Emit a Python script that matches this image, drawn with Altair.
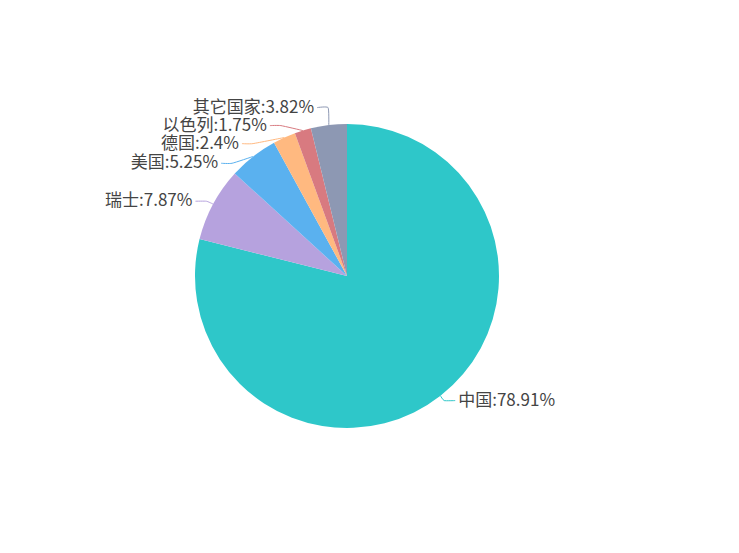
import math
import altair as alt
import pandas as pd

# ---- data ----
names = ["中国", "瑞士", "美国", "德国", "以色列", "其它国家"]
values = [78.91, 7.87, 5.25, 2.4, 1.75, 3.82]
colors = ["#2ec7c9", "#b6a2de", "#5ab1ef", "#ffb980", "#d87a80", "#8d98b3"]
labels = [f"{n}:{v:g}%" for n, v in zip(names, values)]

# ---- layout parameters (pixels within the view) ----
W, H = 723, 537
CX, CY = 339, 268          # pie centre
R = 152                     # pie radius
LEN1, LEN2 = 6, 11          # label line lengths (echarts-like)
GAP = 3                     # gap between line end and text
LINE_H = 18                 # label height used for overlap avoidance

# ---- pie table ----
pie_df = pd.DataFrame({"name": names, "value": values, "label": labels,
                       "order": list(range(len(names)))})

# ---- echarts-4 style outer-label layout derived from the values ----
total = sum(values)
items = []
cum = 0.0
for i, (n, v, lab) in enumerate(zip(names, values, labels)):
    a = 2 * math.pi * (cum + v / 2) / total
    cum += v
    dx, dy = math.sin(a), -math.cos(a)
    side = 1 if dx >= 0 else -1
    x1, y1 = CX + R * dx, CY + R * dy
    x2, y2 = CX + (R + LEN1) * dx, CY + (R + LEN1) * dy
    x3 = x2 + side * LEN2
    items.append(dict(name=n, label=lab, side=side, x1=x1, y1=y1,
                      x=x3, y=y2, h=LINE_H))


def adjust_side(lst, direction):
    if len(lst) < 2:
        return
    lst.sort(key=lambda d: d["y"])
    n = len(lst)

    def shift_up(end, delta):
        for j in range(end, -1, -1):
            if lst[j]["y"] - delta < 0:
                break
            lst[j]["y"] -= delta
            if j > 0 and lst[j]["y"] > lst[j - 1]["y"] + lst[j - 1]["h"]:
                break

    def shift_down(start, end, delta):
        for j in range(start, end):
            if lst[j]["y"] + delta > H:
                break
            lst[j]["y"] += delta
            if j > start and j + 1 < end and lst[j + 1]["y"] > lst[j]["y"] + lst[j]["h"]:
                shift_up(j, delta / 2)
                return
        shift_up(end - 1, delta / 2)

    last_y = -1e9
    for i in range(n):
        delta = lst[i]["y"] - last_y
        if delta < 0:
            shift_down(i, n, -delta)
        last_y = lst[i]["y"] + lst[i]["h"]

    def change_x(sub, is_down):
        last = float("inf") if is_down else 0
        for d in sub:
            ddy = abs(d["y"] - CY)
            if ddy < R + LEN1:
                ddx = math.sqrt((R + LEN1 + LEN2) ** 2 - ddy ** 2)
            else:
                ddx = abs(d["x"] - CX)
            if is_down and ddx >= last:
                ddx = last - 10
            if (not is_down) and ddx <= last:
                ddx = last + 10
            d["x"] = CX + ddx * direction
            last = ddx

    change_x([d for d in lst if d["y"] < CY], False)
    change_x([d for d in lst if d["y"] >= CY], True)


adjust_side([d for d in items if d["side"] < 0], -1)
adjust_side([d for d in items if d["side"] > 0], 1)

line_rows, text_rows = [], []
for d in items:
    p2x = d["x"]
    p1x = p2x - d["side"] * LEN2
    line_rows += [
        dict(name=d["name"], pt=0, px=d["x1"], py=d["y1"]),
        dict(name=d["name"], pt=1, px=p1x, py=d["y"]),
        dict(name=d["name"], pt=2, px=p2x, py=d["y"]),
    ]
    text_rows.append(dict(name=d["name"], label=d["label"],
                          side="right" if d["side"] > 0 else "left",
                          tx=p2x + d["side"] * GAP, ty=d["y"]))
line_df = pd.DataFrame(line_rows)
text_df = pd.DataFrame(text_rows)

color_scale = alt.Scale(domain=names, range=colors)
xs = alt.Scale(domain=[0, W], nice=False, zero=False)
ys = alt.Scale(domain=[0, H], nice=False, zero=False, reverse=True)

lines = alt.Chart(line_df).mark_line(interpolate="cardinal", tension=0.5,
                                     strokeWidth=1).encode(
    x=alt.X("px:Q", scale=xs, axis=None),
    y=alt.Y("py:Q", scale=ys, axis=None),
    color=alt.Color("name:N", scale=color_scale, legend=None),
    detail="name:N",
    order="pt:O",
)

arcs = alt.Chart(pie_df).mark_arc(radius=R, stroke=None).encode(
    theta=alt.Theta("value:Q", stack=True),
    order=alt.Order("order:Q"),
    color=alt.Color("name:N", scale=color_scale, legend=None),
    x=alt.value(CX),
    y=alt.value(CY),
)

text_style = dict(font="Noto Sans CJK SC", fontSize=17, color="#444444",
                  baseline="middle")
text_left = alt.Chart(text_df).transform_filter(
    alt.datum.side == "left").mark_text(align="right", **text_style).encode(
    x=alt.X("tx:Q", scale=xs, axis=None),
    y=alt.Y("ty:Q", scale=ys, axis=None),
    text="label:N",
)
text_right = alt.Chart(text_df).transform_filter(
    alt.datum.side == "right").mark_text(align="left", **text_style).encode(
    x=alt.X("tx:Q", scale=xs, axis=None),
    y=alt.Y("ty:Q", scale=ys, axis=None),
    text="label:N",
)

chart = alt.layer(lines, arcs, text_left, text_right).properties(
    width=W, height=H, padding=0, autosize=alt.AutoSizeParams(type="none"),
    background="white",
).configure_view(stroke=None)

chart.save("out.html", embed_options={"renderer": "svg", "actions": False})
